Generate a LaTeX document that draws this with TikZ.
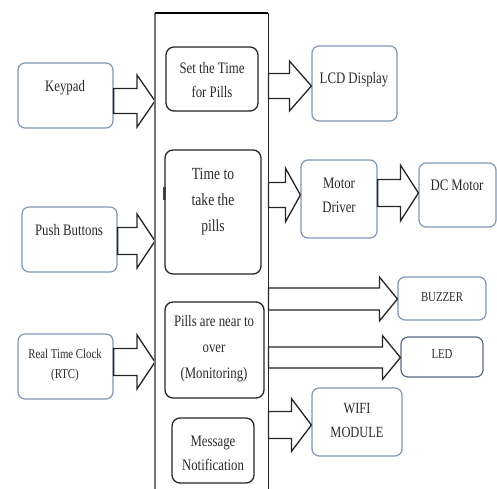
\documentclass[tikz,border=0pt]{standalone}
\usepackage{fontspec}
\setmainfont{Liberation Serif}[FakeStretch=0.8]
\usetikzlibrary{calc}
\definecolor{bluegray}{HTML}{8196B4}
\definecolor{txtcol}{HTML}{2A2A2A}
\tikzset{
  lbox/.style={draw=bluegray, line width=1.2pt, rounded corners=7pt, fill=white, inner sep=0pt},
  ibox/.style={draw=black!85, line width=1.3pt, rounded corners=8pt, fill=white, inner sep=0pt},
  txt/.style={align=center, text=txtcol, inner sep=0pt, font=\fontsize{16}{24}\selectfont},
  stxt/.style={align=center, text=txtcol, inner sep=0pt, font=\fontsize{13.5}{20}\selectfont},
  barrow/.style={draw=black!85, line width=1.3pt, fill=white, line join=miter},
}
\newcommand\blockarrow[5]{%
  \draw[barrow] let \p1=(#1), \p2=(#2) in
    (\x1,\y2+#3) -- (\x2-#5,\y2+#3) -- (\x2-#5,\y2+#4) -- (\x2,\y2) --
    (\x2-#5,\y2-#4) -- (\x2-#5,\y2-#3) -- (\x1,\y2-#3) -- cycle;}
\begin{document}
\begin{tikzpicture}[x=1pt,y=-1pt]
\useasboundingbox (0,0) rectangle (497,488);
% main frame
\node[draw=none, minimum width=113, minimum height=477, anchor=north west, inner sep=0pt] (main) at (155,13) {};
% left boxes
\node[lbox, minimum width=95, minimum height=65] (kp) at (65.5,95.5) {};
\node[lbox, minimum width=95, minimum height=65] (pb) at (69.5,239.5) {};
\node[lbox, minimum width=95, minimum height=65] (rtc) at (65.5,366.5) {};
% inner boxes
\node[ibox, minimum width=92, minimum height=64] (b1) at (212,79) {};
\node[ibox, minimum width=96, minimum height=124] (b2) at (213,212) {};
\node[ibox, minimum width=99, minimum height=96] (b3) at (214.5,350) {};
\node[ibox, minimum width=82, minimum height=65] (b4) at (213,450.5) {};
% right boxes
\node[lbox, minimum width=85, minimum height=75] (lcd) at (354.5,83.5) {};
\node[lbox, minimum width=76, minimum height=78] (md) at (339,199) {};
\node[lbox, minimum width=77, minimum height=64] (dc) at (457.5,195) {};
\node[lbox, minimum width=88, minimum height=43] (bz) at (442,298.5) {};
\node[lbox, draw=bluegray!70!black, minimum width=82, minimum height=40] (led) at (442,357) {};
\node[lbox, minimum width=90, minimum height=68] (wifi) at (357,422) {};
% texts
\node[txt] (tkp) at (65,88) {Keypad};
\node[txt] (tpb) at (69,230) {Push Buttons};
\node[stxt] (trtc) at (65,365) {Real Time Clock\\(RTC)};
\node[txt] (tb1) at (212,80) {Set the Time\\for Pills};
\node[txt, font=\fontsize{17}{26}\selectfont] (tb2) at (213,202) {Time to\\take the\\pills};
\node[txt, font=\fontsize{16}{26}\selectfont] (tb3) at (214,349) {Pills are near to\\over\\(Monitoring)};
\node[txt] (tb4) at (213,453) {Message\\Notification};
\node[txt] (tlcd) at (354,80) {LCD Display};
\node[txt] (tmd) at (339,195) {Motor\\Driver};
\node[txt] (tdc) at (457,185) {DC Motor};
\node[stxt] (tbz) at (442,297) {BUZZER};
\node[stxt] (tled) at (442,354) {LED};
\node[txt, font=\fontsize{15.5}{24}\selectfont] (twifi) at (357,420) {WIFI\\MODULE};
% arrow tips
\coordinate (tip1) at (main.west |- 0,101);
\coordinate (tip2) at (main.west |- 0,241);
\coordinate (tip3) at (main.west |- 0,362);
\coordinate (tip4) at (lcd.west |- 0,86);
\coordinate (tip5) at (md.west |- 0,195);
\coordinate (tip6) at (dc.west |- 0,193);
\coordinate (tip7) at (bz.west |- 0,299);
\coordinate (tip8) at (led.west |- 0,357.5);
\coordinate (tip9) at (wifi.west |- 0,425);
% block arrows
\blockarrow{kp.east}{tip1}{12.5pt}{26pt}{18pt}
\blockarrow{pb.east}{tip2}{13.5pt}{27pt}{18pt}
\blockarrow{rtc.east}{tip3}{13.5pt}{27pt}{18pt}
\blockarrow{main.east}{tip4}{12.5pt}{25pt}{22pt}
\blockarrow{main.east}{tip5}{12.5pt}{27pt}{15pt}
\blockarrow{md.east}{tip6}{13.5pt}{28pt}{18pt}
\blockarrow{main.east}{tip7}{11pt}{22pt}{18pt}
\blockarrow{main.east}{tip8}{10.5pt}{22pt}{18pt}
\blockarrow{main.east}{tip9}{13.5pt}{26.5pt}{20pt}
% frame lines
\draw[black!55, line width=1.8pt] (main.south west) -- (main.north west);
\draw[black, line width=1.8pt] (main.north west) -- (main.north east);
\draw[black!85, line width=1.4pt] (main.north east) -- (main.south east);
% small tick on the left of the second box
\fill[black!75] (163,187) rectangle (166,200);
\end{tikzpicture}
\end{document}
